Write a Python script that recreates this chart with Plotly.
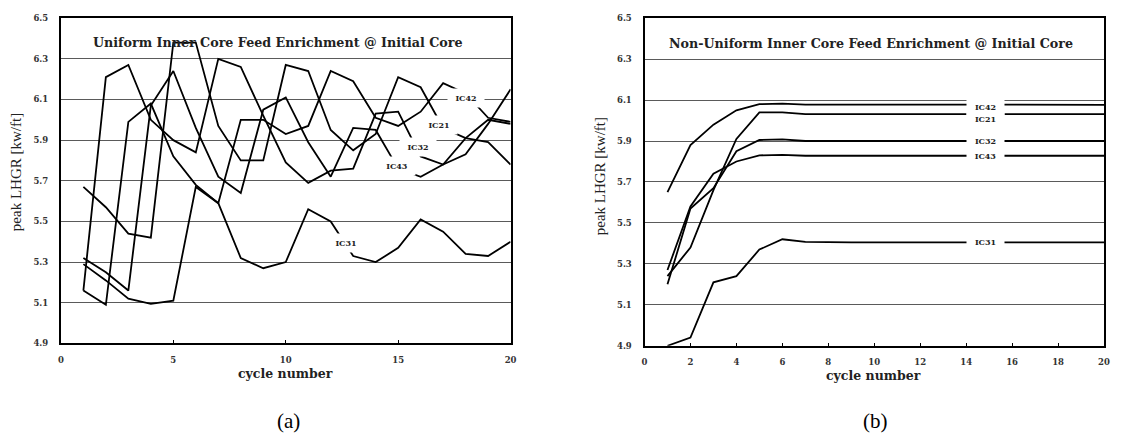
import plotly.graph_objects as go

# ---------------- data ----------------
cycles = list(range(1, 21))

# (a) Uniform inner core feed enrichment
u_ic42 = [5.16, 5.09, 5.99, 6.08, 5.82, 5.68, 5.59, 6.00, 6.00, 5.93, 5.97, 6.24, 6.19, 6.01, 5.97, 6.04, 6.18, 6.13, 6.01, 5.99]
u_ic21 = [5.67, 5.57, 5.44, 5.42, 6.38, 6.38, 5.97, 5.80, 5.80, 6.27, 6.24, 5.95, 5.85, 5.93, 6.21, 6.16, 5.96, 5.91, 5.89, 5.78]
u_ic32 = [5.16, 6.21, 6.27, 6.00, 5.90, 5.84, 6.30, 6.26, 6.02, 5.79, 5.69, 5.75, 5.76, 6.03, 6.04, 5.82, 5.78, 5.91, 6.00, 5.98]
u_ic43 = [5.32, 5.25, 5.16, 6.07, 6.24, 5.96, 5.72, 5.64, 6.05, 6.11, 5.89, 5.72, 5.96, 5.95, 5.76, 5.72, 5.78, 5.83, 5.98, 6.15]
u_ic31 = [5.29, 5.21, 5.12, 5.095, 5.11, 5.67, 5.59, 5.32, 5.27, 5.30, 5.56, 5.50, 5.33, 5.30, 5.37, 5.51, 5.45, 5.34, 5.33, 5.40]

# (b) Non-uniform inner core feed enrichment
n_ic42 = [5.65, 5.88, 5.98, 6.05, 6.08, 6.083, 6.078, 6.078, 6.077, 6.077, 6.077, 6.077, 6.077, 6.077, 6.077, 6.077, 6.077, 6.077, 6.077, 6.077]
n_ic21 = [5.24, 5.38, 5.66, 5.91, 6.04, 6.04, 6.031, 6.031, 6.031, 6.031, 6.031, 6.031, 6.031, 6.031, 6.031, 6.031, 6.031, 6.031, 6.031, 6.031]
n_ic32 = [5.20, 5.57, 5.67, 5.85, 5.905, 5.908, 5.90, 5.90, 5.90, 5.90, 5.90, 5.90, 5.90, 5.90, 5.90, 5.90, 5.90, 5.90, 5.90, 5.90]
n_ic43 = [5.27, 5.58, 5.74, 5.80, 5.83, 5.832, 5.828, 5.828, 5.828, 5.828, 5.828, 5.828, 5.828, 5.828, 5.828, 5.828, 5.828, 5.828, 5.828, 5.828]
n_ic31 = [4.90, 4.94, 5.21, 5.24, 5.37, 5.42, 5.407, 5.405, 5.405, 5.405, 5.405, 5.405, 5.405, 5.405, 5.405, 5.405, 5.405, 5.405, 5.405, 5.405]

y_ticks = [4.9, 5.1, 5.3, 5.5, 5.7, 5.9, 6.1, 6.3, 6.5]
x_ticks_a = [0, 5, 10, 15, 20]
x_ticks_b = [0, 2, 4, 6, 8, 10, 12, 14, 16, 18, 20]

title_a = "Uniform Inner Core Feed Enrichment @ Initial Core"
title_b = "Non-Uniform Inner Core Feed Enrichment @ Initial Core"

# label positions (series name, x, y)
labels_a = [("IC31", 12.66, 5.394), ("IC43", 14.96, 5.774), ("IC32", 15.9, 5.864),
            ("IC21", 16.8, 5.974), ("IC42", 18.0, 6.106)]
labels_b = [("IC31", 14.85, 5.407), ("IC43", 14.85, 5.827), ("IC32", 14.85, 5.899),
            ("IC21", 14.85, 6.007), ("IC42", 14.85, 6.067)]

# ---------------- figure ----------------
# the page body has an 8px margin: size the figure so it fits the 1122x445 window
OFF = 8
W, H = 1122 - 2 * OFF, 445 - 2 * OFF


def px(xp):
    return (xp - OFF) / W


def py(yp):
    return 1 - (yp - OFF) / H


fig = go.Figure()

line_style = dict(color="black", width=1.8)
for name, ys in [("IC42", u_ic42), ("IC21", u_ic21), ("IC32", u_ic32), ("IC43", u_ic43), ("IC31", u_ic31)]:
    fig.add_trace(go.Scatter(x=cycles, y=ys, mode="lines", name=name, line=line_style,
                             xaxis="x", yaxis="y", showlegend=False))
for name, ys in [("IC42", n_ic42), ("IC21", n_ic21), ("IC32", n_ic32), ("IC43", n_ic43), ("IC31", n_ic31)]:
    fig.add_trace(go.Scatter(x=cycles, y=ys, mode="lines", name=name, line=line_style,
                             xaxis="x2", yaxis="y2", showlegend=False))

tick_font = dict(family="DejaVu Serif", size=8.5, color="#333333", weight="bold")
grid_col = "#5a5a5a"


def xaxis_cfg(domain, ticks):
    return dict(domain=domain, range=[0, 20], tickvals=ticks, ticktext=[str(t) for t in ticks],
                ticks="inside", ticklen=3, tickwidth=1, tickcolor="black",
                showline=True, linecolor="black", linewidth=2, mirror=True,
                showgrid=False, zeroline=False, tickfont=tick_font, ticklabelstandoff=7,
                fixedrange=True)


def yaxis_cfg(domain, anchor):
    return dict(domain=domain, range=[4.9, 6.5], tickvals=y_ticks,
                ticktext=["%.1f" % v for v in y_ticks], ticks="",
                showline=True, linecolor="black", linewidth=2, mirror=True,
                showgrid=True, gridcolor=grid_col, gridwidth=1, zeroline=False,
                tickfont=tick_font, ticklabelstandoff=9, anchor=anchor, fixedrange=True)


fig.update_layout(
    width=W, height=H, autosize=False,
    margin=dict(l=0, r=0, t=0, b=0),
    paper_bgcolor="white", plot_bgcolor="white",
    xaxis=xaxis_cfg([px(58.3), px(511.7)], x_ticks_a) | dict(anchor="y"),
    yaxis=yaxis_cfg([py(346.3), py(13.3)], "x"),
    xaxis2=xaxis_cfg([px(646.7), px(1110)], x_ticks_b) | dict(anchor="y2"),
    yaxis2=yaxis_cfg([py(348.7), py(13.3)], "x2"),
)

ann = []
title_font = dict(family="DejaVu Serif", size=12.7, color="#222222", weight="bold")
ann.append(dict(text=title_a, x=9.65, y=6.381, xref="x", yref="y", showarrow=False,
                font=title_font, xanchor="center", yanchor="middle"))
ann.append(dict(text=title_b, x=9.85, y=6.376, xref="x2", yref="y2", showarrow=False,
                font=title_font, xanchor="center", yanchor="middle"))

lab_font = dict(family="DejaVu Serif", size=8, color="#222222", weight="bold")
for name, lx, ly in labels_a:
    ann.append(dict(text=name, x=lx, y=ly, xref="x", yref="y", showarrow=False, font=lab_font,
                    bgcolor="white", width=30, height=12, borderpad=3,
                    xanchor="center", yanchor="middle"))
for name, lx, ly in labels_b:
    ann.append(dict(text=name, x=lx, y=ly, xref="x2", yref="y2", showarrow=False, font=lab_font,
                    bgcolor="white", width=31, height=10, borderpad=3,
                    xanchor="center", yanchor="middle"))

axis_title_font = dict(family="DejaVu Serif", size=12.5, color="#222222", weight="bold")
ann.append(dict(text="cycle number", x=px(285), y=py(377), xref="paper", yref="paper",
                showarrow=False, font=axis_title_font, xanchor="center", yanchor="middle"))
ann.append(dict(text="cycle number", x=px(878), y=py(379), xref="paper", yref="paper",
                showarrow=False, font=axis_title_font, xanchor="center", yanchor="middle"))

ytitle_font = dict(family="Liberation Serif", size=15, color="#222222")
ann.append(dict(text="peak LHGR [kw/ft]", x=px(13), y=py(171), xref="paper", yref="paper",
                showarrow=False, font=ytitle_font, textangle=-90, xanchor="center", yanchor="middle"))
ann.append(dict(text="peak LHGR [kw/ft]", x=px(602), y=py(175), xref="paper", yref="paper",
                showarrow=False, font=ytitle_font, textangle=-90, xanchor="center", yanchor="middle"))

panel_font = dict(family="Liberation Serif", size=21, color="black")
ann.append(dict(text="(a)", x=px(288), y=py(426), xref="paper", yref="paper",
                showarrow=False, font=panel_font, xanchor="center", yanchor="middle"))
ann.append(dict(text="(b)", x=px(880), y=py(426), xref="paper", yref="paper",
                showarrow=False, font=panel_font, xanchor="center", yanchor="middle"))

fig.update_layout(annotations=ann)
fig.write_html("out.html", config={"displayModeBar": False})
